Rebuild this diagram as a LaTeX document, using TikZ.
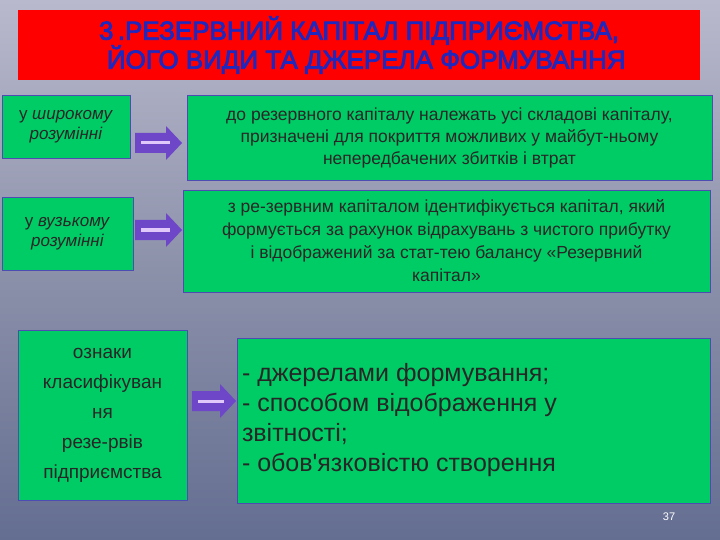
\documentclass[tikz,border=0pt]{standalone}
\usepackage{fontspec}
\setmainfont{Liberation Sans}
\newfontfamily\titlef{Liberation Sans}[FakeBold=3]
\definecolor{gbox}{RGB}{0,204,102}
\definecolor{tblue}{RGB}{30,40,190}
\definecolor{arr}{RGB}{110,70,200}
\definecolor{arrin}{RGB}{225,200,250}
\tikzset{
 gb/.style={draw=blue!40!gray,line width=0.8pt,fill=gbox,align=center,inner sep=0pt,text=black!85}
}
\newcommand{\bigarrow}[2]{%
 \fill[arr] (#1) ++(0,-10) -- ++(#2-16,0) -- ++(0,-7) -- ++(16,17) -- ++(-16,17) -- ++(0,-7) -- ++(-#2+16,0) -- cycle;
 \draw[arrin,line width=3pt] (#1) ++(6,0) -- ++(#2-18,0);}
\begin{document}
\begin{tikzpicture}[x=1pt,y=-1pt]
\shade[top color={rgb,255:red,185;green,185;blue,205},bottom color={rgb,255:red,100;green,110;blue,145},middle color={rgb,255:red,140;green,145;blue,170}] (0,0) rectangle (720,540);
\useasboundingbox (0,0) rectangle (720,540);
% title
\fill[red] (18,10) rectangle (700,80);
\node[align=center,text=tblue,font=\fontsize{26}{29}\titlef] (t) at (359,45) {3\,.РЕЗЕРВНИЙ КАПІТАЛ ПІДПРИЄМСТВА,\\ \ \ ЙОГО ВИДИ ТА ДЖЕРЕЛА ФОРМУВАННЯ};
% row 1
\node[gb,minimum width=128pt,minimum height=63pt,font=\fontsize{17}{20}\selectfont] (l1) at (66,126.5) {у \textit{широкому}\\\textit{розумінні}};
\node[gb,minimum width=525pt,minimum height=85pt,font=\fontsize{17.5}{22}\selectfont] (r1) at (449.5,137.5) {до резервного капіталу належать усі складові капіталу,\\призначені для покриття можливих у майбут-ньому\\непередбачених збитків і втрат};
\coordinate (a1) at (135,143);
\bigarrow{a1}{47}
% row 2
\node[gb,minimum width=131pt,minimum height=73pt,font=\fontsize{17}{20}\selectfont] (l2) at (67.5,233.5) {у \textit{вузькому}\\\textit{розумінні}};
\node[gb,minimum width=527pt,minimum height=102pt,font=\fontsize{17.5}{23}\selectfont] (r2) at (446.5,241) {з ре-зервним капіталом ідентифікується капітал, який\\формується за рахунок відрахувань з чистого прибутку\\і відображений за стат-тею балансу «Резервний\\капітал»};
\coordinate (a2) at (135,230);
\bigarrow{a2}{47}
% row 3
\node[gb,minimum width=169pt,minimum height=170pt,font=\fontsize{19}{30}\selectfont] (l3) at (102.5,415) {ознаки\\класифікуван\\ня\\резе-рвів\\підприємства};
\node[gb,minimum width=473pt,minimum height=165pt] (r3) at (473.5,420.5) {\begin{minipage}{463pt}\fontsize{25}{30}\selectfont - джерелами формування;\\- способом відображення у\\звітності;\\- обов\textquotesingle язковістю створення\end{minipage}};
\coordinate (a3) at (192,401);
\bigarrow{a3}{44}
\node[font=\fontsize{11}{12}\selectfont,text=white] (n) at (669,517) {37};
\end{tikzpicture}
\end{document}
